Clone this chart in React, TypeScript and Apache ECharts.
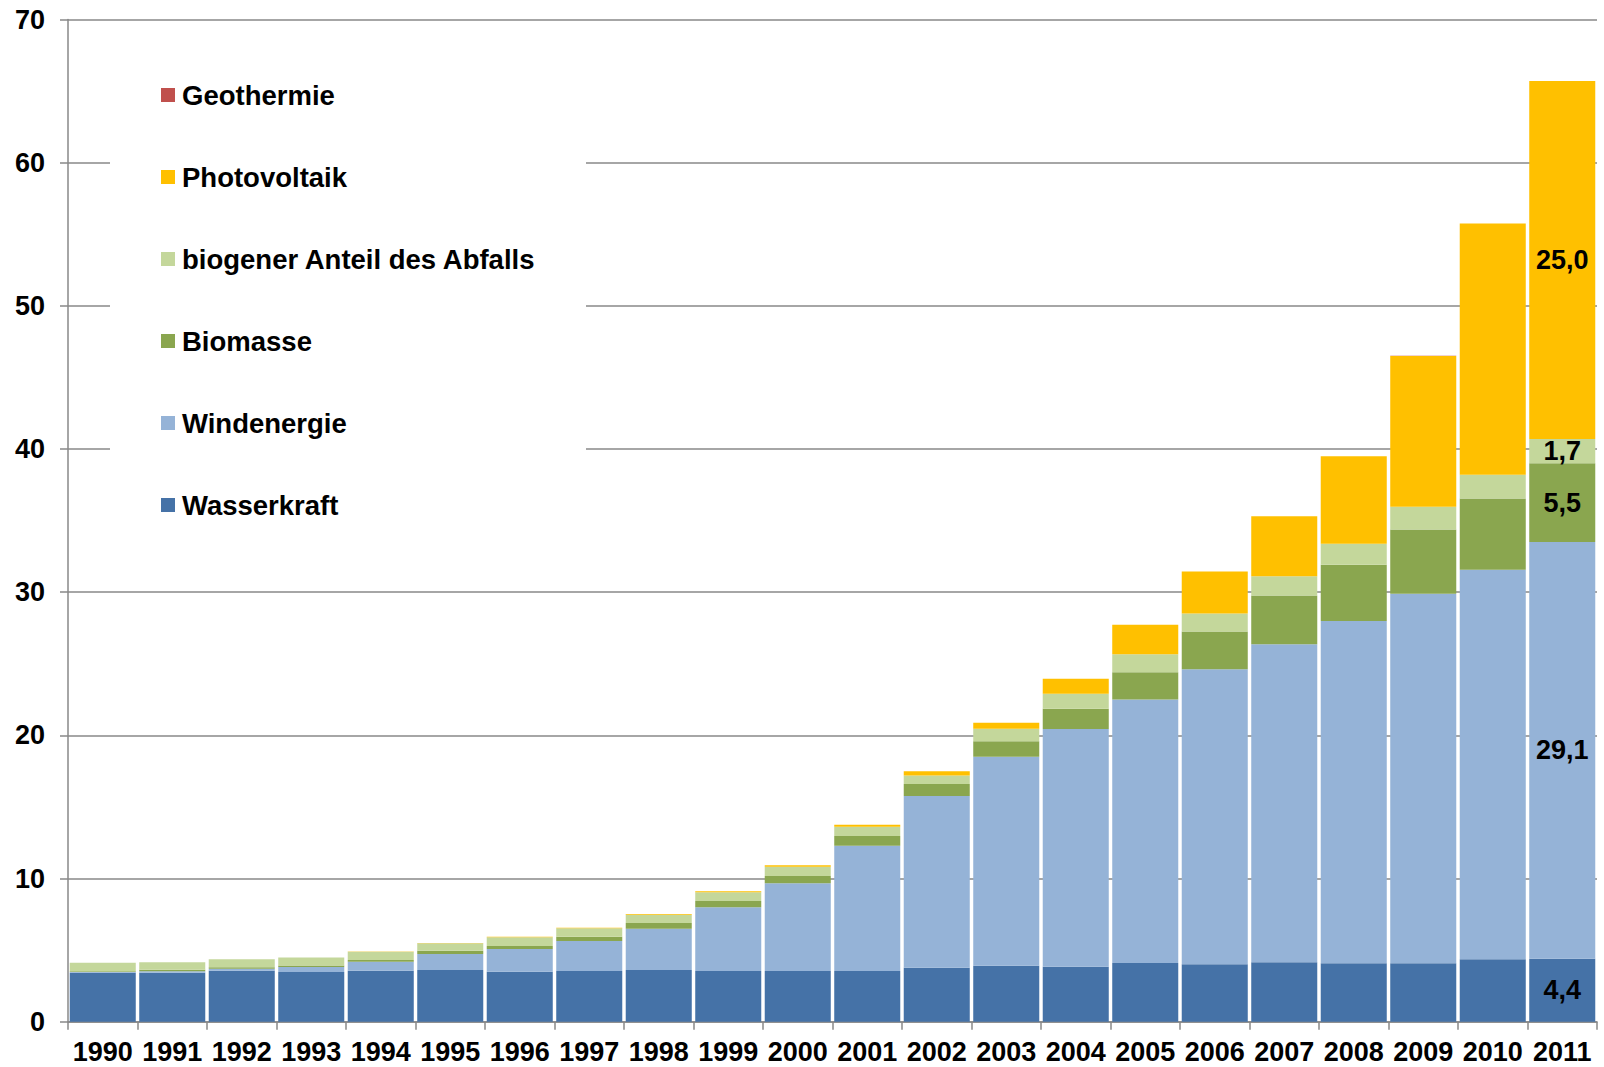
import React, { useEffect, useRef } from "react";
import * as echarts from "echarts";

const years = [
  "1990", "1991", "1992", "1993", "1994", "1995", "1996", "1997", "1998", "1999", "2000",
  "2001", "2002", "2003", "2004", "2005", "2006", "2007", "2008", "2009", "2010", "2011",
];
const wasserkraft = [3.42, 3.42, 3.56, 3.47, 3.56, 3.61, 3.49, 3.54, 3.61, 3.54, 3.54, 3.54, 3.77, 3.91, 3.84, 4.1, 4.02, 4.16, 4.09, 4.09, 4.37, 4.4];
const windenergie = [0.06, 0.1, 0.14, 0.35, 0.63, 1.12, 1.59, 2.1, 2.89, 4.45, 6.13, 8.75, 12.0, 14.6, 16.6, 18.4, 20.6, 22.2, 23.9, 25.8, 27.2, 29.1];
const biomasse = [0.05, 0.1, 0.1, 0.1, 0.12, 0.23, 0.21, 0.3, 0.39, 0.44, 0.51, 0.68, 0.83, 1.07, 1.42, 1.91, 2.63, 3.4, 3.93, 4.49, 4.98, 5.5];
const biogenerAbfall = [0.58, 0.53, 0.56, 0.56, 0.58, 0.52, 0.61, 0.58, 0.58, 0.61, 0.65, 0.65, 0.59, 0.88, 1.05, 1.25, 1.26, 1.35, 1.47, 1.59, 1.66, 1.7];
const photovoltaik = [0.002, 0.003, 0.006, 0.009, 0.012, 0.018, 0.028, 0.042, 0.054, 0.07, 0.1, 0.14, 0.3, 0.42, 1.05, 2.06, 2.93, 4.19, 6.1, 10.53, 17.54, 25.0];
const geothermie = [0, 0, 0, 0, 0, 0, 0, 0, 0, 0, 0, 0, 0, 0, 0.0002, 0.0002, 0.0007, 0.003, 0.006, 0.008, 0.008, 0.008];
const yTicks = { min: 0, max: 70, interval: 10 };

const seriesDefs = [
  { name: "Wasserkraft", data: wasserkraft, color: "#4572A7", label: true },
  { name: "Windenergie", data: windenergie, color: "#95B3D7", label: true },
  { name: "Biomasse", data: biomasse, color: "#8AA64F", label: true },
  { name: "biogener Anteil des Abfalls", data: biogenerAbfall, color: "#C4D79B", label: true },
  { name: "Photovoltaik", data: photovoltaik, color: "#FFC000", label: true },
  { name: "Geothermie", data: geothermie, color: "#C0504D", label: false },
];
const legendOrder = [
  "Geothermie",
  "Photovoltaik",
  "biogener Anteil des Abfalls",
  "Biomasse",
  "Windenergie",
  "Wasserkraft",
];

const FONT = "'Liberation Sans', Arial, sans-serif";
const GRAY = "#888888";

export default function App() {
  const ref = useRef<HTMLDivElement>(null);
  useEffect(() => {
    if (!ref.current) return;
    const chart = echarts.init(ref.current, undefined, { renderer: "svg" });
    const last = years.length - 1;
    const option: any = {
      animation: false,
      backgroundColor: "#ffffff",
      grid: { left: 68, right: 7, top: 19.5, bottom: 45.3, containLabel: false },
      legend: {
        data: legendOrder,
        orient: "vertical",
        left: 161,
        top: 80,
        padding: 0,
        itemWidth: 14,
        itemHeight: 14,
        itemGap: 52,
        icon: "rect",
        selectedMode: false,
        textStyle: {
          fontFamily: FONT,
          fontWeight: "bold",
          fontSize: 27.5,
          color: "#000",
          lineHeight: 30,
          padding: [0, 0, 0, 2],
        },
      },
      graphic: [
        {
          type: "rect",
          z: 3,
          shape: { x: 110, y: 45, width: 476, height: 490 },
          style: { fill: "#ffffff" },
        },
      ],
      xAxis: {
        type: "category",
        data: years,
        axisLine: { lineStyle: { color: GRAY, width: 1.5 } },
        axisTick: { show: true, length: 8, interval: 0, lineStyle: { color: GRAY, width: 1.5 } },
        axisLabel: { interval: 0, margin: 17, fontFamily: FONT, fontWeight: "bold", fontSize: 27, color: "#000" },
        splitLine: { show: false },
      },
      yAxis: {
        type: "value",
        min: yTicks.min,
        max: yTicks.max,
        interval: yTicks.interval,
        axisLine: { show: true, lineStyle: { color: GRAY, width: 1.5 } },
        axisTick: { show: true, length: 8, lineStyle: { color: GRAY, width: 1.5 } },
        axisLabel: { margin: 23, fontFamily: FONT, fontWeight: "bold", fontSize: 27, color: "#000" },
        splitLine: { show: true, lineStyle: { color: GRAY, width: 1.5 } },
      },
      series: seriesDefs.map((s) => ({
        name: s.name,
        type: "bar",
        stack: "total",
        barCategoryGap: "5%",
        itemStyle: { color: s.color },
        label: {
          show: false,
          position: "inside",
          fontFamily: FONT,
          fontWeight: "bold",
          fontSize: 27,
          color: "#000",
          formatter: (p: any) => Number(p.value).toFixed(1).replace(".", ","),
        },
        data: s.data.map((v, i) =>
          i === last && s.label ? { value: v, label: { show: true } } : v
        ),
      })),
    };
    chart.setOption(option);
    return () => chart.dispose();
  }, []);
  return (
    <div
      ref={ref}
      style={{ position: "fixed", left: 0, top: 0, width: 1604, height: 1067 }}
    />
  );
}
